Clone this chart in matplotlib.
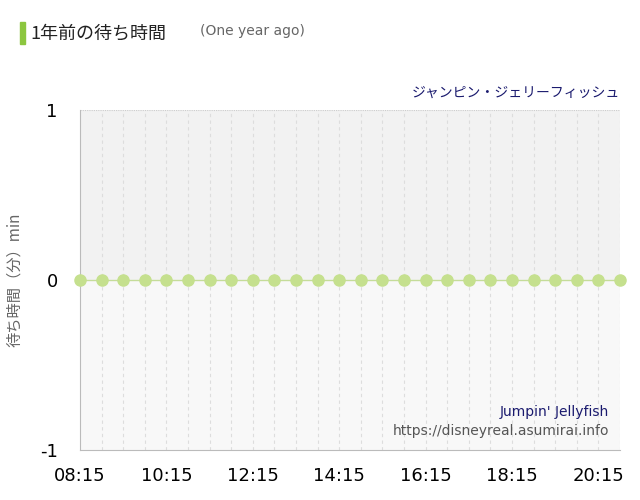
import matplotlib
matplotlib.use("Agg")
import matplotlib.pyplot as plt
import matplotlib.patches as mpatches

plt.rcParams["font.family"] = ["Noto Sans CJK JP", "DejaVu Sans"]

# 08:15 .. 20:45 every 30 min, expressed in minutes since midnight
times = [8 * 60 + 15 + 30 * i for i in range(26)]
waits = [0] * 26
tick_labels = ["08:15", "10:15", "12:15", "14:15", "16:15", "18:15", "20:15"]
tick_pos = [8 * 60 + 15 + 120 * i for i in range(7)]

fig = plt.figure(figsize=(6.4, 5.0), dpi=100)
ax = fig.add_axes([80 / 640, 50 / 500, 540 / 640, 340 / 500])

xmin, xmax = times[0], times[-1]
ax.set_xlim(xmin, xmax)
ax.set_ylim(-1, 1)
ax.axhspan(0, 1, color="#f2f2f2", zorder=0)
ax.axhspan(-1, 0, color="#f8f8f8", zorder=0)
for t in times[1:]:
    ax.axvline(t, color="#dddddd", lw=0.8, ls=(0, (3, 3)), zorder=1)
ax.axhline(1, color="#cccccc", lw=0.8, ls=(0, (1, 1)), zorder=1)
ax.axhline(0, color="#c5dc9a", lw=1, zorder=2)

ax.plot(times, waits, "o", color="#c5e08e", ms=8, clip_on=False, zorder=3)

for s in ["top", "right"]:
    ax.spines[s].set_visible(False)
ax.spines["left"].set_color("#bbbbbb")
ax.spines["bottom"].set_color("#bbbbbb")
ax.set_yticks([-1, 0, 1])
ax.set_yticklabels(["-1", "0", "1"], fontsize=13, family="DejaVu Sans")
ax.set_xticks(tick_pos)
ax.set_xticklabels(tick_labels, fontsize=13, family="DejaVu Sans")
ax.tick_params(axis="y", length=0, pad=16)
ax.tick_params(axis="x", length=0, pad=12)
ax.set_ylabel("待ち時間（分）min", fontsize=11, color="#666666", labelpad=12)

ax.text(1.0, 1.03, "ジャンピン・ジェリーフィッシュ", transform=ax.transAxes,
        ha="right", va="bottom", fontsize=10, color="#1a1a6e")
ax.text(0.98, 0.09, "Jumpin' Jellyfish", transform=ax.transAxes,
        ha="right", va="bottom", fontsize=10, color="#1a1a6e", family="DejaVu Sans")
ax.text(0.98, 0.035, "https://disneyreal.asumirai.info", transform=ax.transAxes,
        ha="right", va="bottom", fontsize=10, color="#555555", family="DejaVu Sans")

fig.patches.append(mpatches.Rectangle((20 / 640, 456 / 500), 5 / 640, 22 / 500,
                                      transform=fig.transFigure, color="#8cc63f"))
fig.text(30 / 640, 467 / 500, "1年前の待ち時間", fontsize=13, va="center", color="#222222")
fig.text(200 / 640, 469 / 500, "(One year ago)", fontsize=10, va="center", color="#666666",
         family="DejaVu Sans")

fig.savefig("out.png", dpi=100)
